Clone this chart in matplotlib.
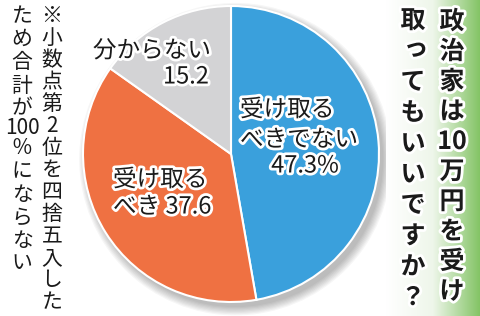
import numpy as np
import matplotlib
matplotlib.use("Agg")
import matplotlib.pyplot as plt
import matplotlib.patheffects as pe
from matplotlib.patches import Circle
from matplotlib.colors import LinearSegmentedColormap

plt.rcParams['font.family'] = ['Noto Sans CJK JP', 'DejaVu Sans']

# data
labels = ["受け取るべきでない", "受け取るべき", "分からない"]
values = [47.3, 37.6, 15.2]
colors = ["#3aa0dc", "#ef7142", "#d3d3d5"]

title_cols = [["政", "治", "家", "は", "10", "万", "円", "を", "受", "け"],
              ["取", "っ", "て", "も", "い", "い", "で", "す", "か", "？"]]
note_cols = [["※", "小", "数", "点", "第", "2", "位", "を", "四", "捨", "五", "入", "し", "た"],
             ["た", "め", "合", "計", "が", "100", "％", "に", "な", "ら", "な", "い"]]

W, H = 480, 316
fig = plt.figure(figsize=(W / 100, H / 100), dpi=100)
fig.patch.set_facecolor("white")

# pie, centre (231,154) radius 148 px
r = 148
cx, cy = 231, 154
pax = fig.add_axes([(cx - r) / W, (H - cy - r) / H, 2 * r / W, 2 * r / H])
for i in range(8):
    pax.add_patch(Circle((0.03, -0.035), 1.0 + 0.008 * i, color="black",
                         alpha=0.035, lw=0, clip_on=False, zorder=0))
pax.pie(values, colors=colors, startangle=90, counterclock=False,
        wedgeprops=dict(edgecolor="white", linewidth=1.5), radius=1.0)
pax.set_xlim(-1, 1)
pax.set_ylim(-1, 1)
pax.axis("off")

# overlay in pixel coords
ax = fig.add_axes([0, 0, 1, 1], zorder=3)
ax.set_xlim(0, W)
ax.set_ylim(H, 0)
ax.axis("off")
ax.patch.set_alpha(0)

# green gradient panel
cmap = LinearSegmentedColormap.from_list("g", ["#ffffff", "#eef6ea", "#84c466"])
grad = np.linspace(0, 1, 200).reshape(1, -1)
ax.imshow(grad, cmap=cmap, extent=[386, 480, 316, 0], aspect="auto", zorder=0)

stroke = [pe.withStroke(linewidth=4, foreground="white")]
lab_kw = dict(fontsize=17, color="#1a1a1a", path_effects=stroke, va="center")

# slice labels
ax.text(240, 110, labels[0][:4], ha="left", **lab_kw)
ax.text(240, 140, labels[0][4:], ha="left", **lab_kw)
ax.text(305, 166, f"{values[0]}%", ha="center", **lab_kw)

ax.text(113, 180, labels[1][:4], ha="left", **lab_kw)
ax.text(113, 207, f"{labels[1][4:]} {values[1]}", ha="left", **lab_kw)

ax.text(211, 51, labels[2], ha="right", **lab_kw)
ax.text(209, 77, f"{values[2]}", ha="right", **lab_kw)


def vtext(x, centers, cells, **kw):
    for yc, ch in zip(centers, cells):
        if ch == "っ":
            ax.text(x + 3, yc - 3, ch, ha="center", va="center", **kw)
        else:
            ax.text(x, yc, ch, ha="center", va="center", **kw)


# title (vertical)
tkw = dict(fontsize=18, fontweight="bold", color="#1a1a1a",
           path_effects=[pe.withStroke(linewidth=4, foreground="white")])
vtext(452, np.linspace(22, 292, 10), title_cols[0], **tkw)
vtext(413, np.linspace(21, 298, 10), title_cols[1], **tkw)

# note (vertical)
nkw = dict(fontsize=15, color="#1a1a1a")
vtext(52, np.linspace(16, 302, 14), note_cols[0], **nkw)
vtext(22, [16, 39, 62, 86, 108, 128, 148, 171, 195, 218, 241, 263], note_cols[1], **nkw)

fig.savefig("out.png", dpi=100)
